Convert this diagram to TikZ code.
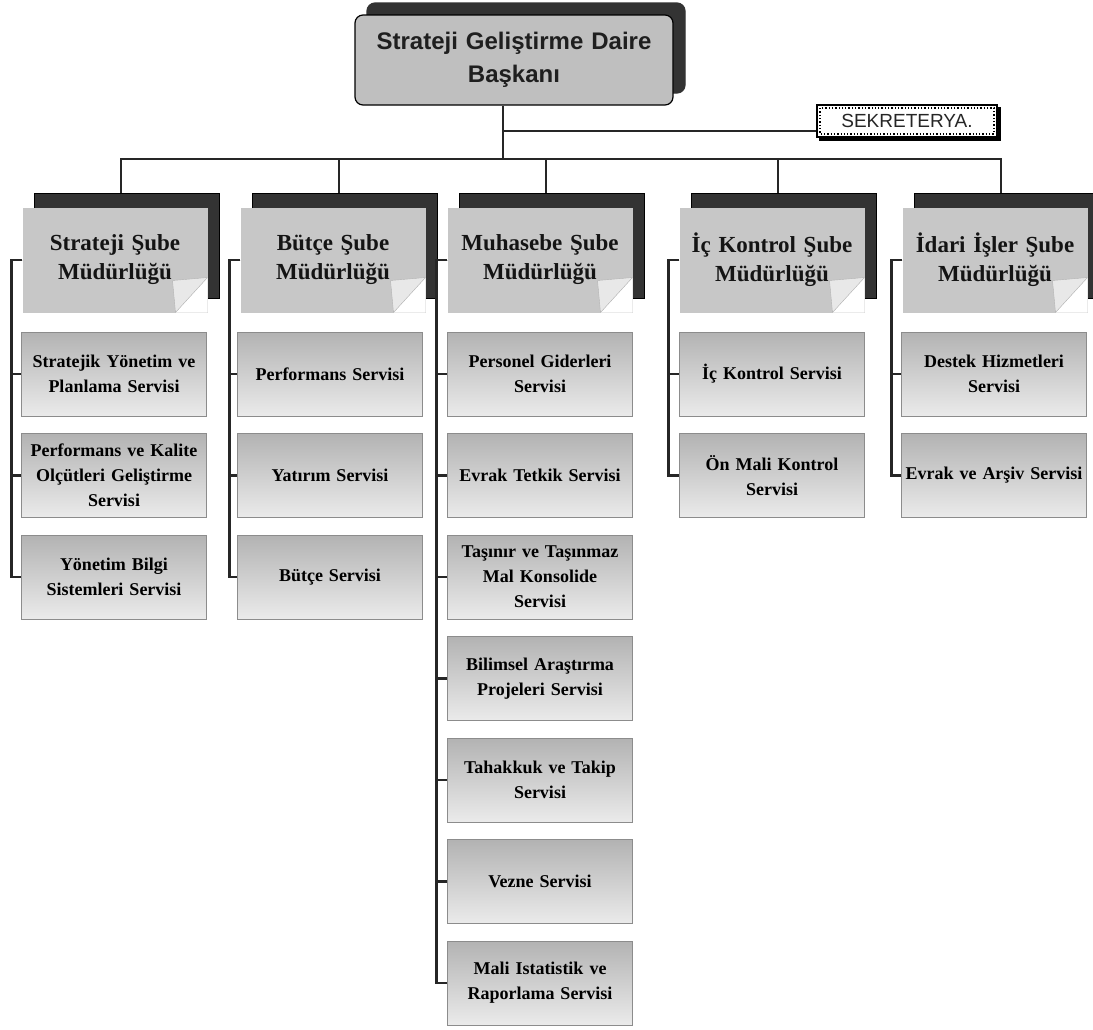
\documentclass[tikz,border=0pt]{standalone}
\usepackage{fontspec}
\setmainfont{Liberation Serif}
\newfontfamily\headfont{Liberation Sans}
\usetikzlibrary{shadows}

\newcommand{\baskanFont}{\headfont\bfseries\fontsize{24}{33}\selectfont}
\newcommand{\subeFont}{\bfseries\fontsize{23}{29}\selectfont}
\newcommand{\svcFont}{\bfseries\fontsize{18}{25}\selectfont}

\begin{document}
\begin{tikzpicture}[x=1pt, y=-1pt,
conn/.style={draw=black!85, line width=2.6pt},
elbow/.style={to path={-- ++(-11pt,0pt) |- (\tikztotarget)}},
busDrop/.style={to path={-| (\tikztotarget)}},
rectBaskan/.style={rectangle, rounded corners=8pt, draw=black, line width=1.2pt, fill=black!25, minimum width=318pt, minimum height=90pt, text width=305pt, align=center, font=\baskanFont, text=black!88, copy shadow={shadow xshift=12pt, shadow yshift=12pt, fill=black!80, draw=black!80}},
rectSekreter/.style={rectangle, draw=black, line width=1.8pt, fill=white, minimum width=180pt, minimum height=32pt, font=\headfont\fontsize{19}{22}\selectfont, text=black!85, copy shadow={shadow xshift=3pt, shadow yshift=-3pt, fill=black, draw=black}},
rectSube/.style={rectangle, fill=black!22, minimum width=185pt, minimum height=105pt, text width=178pt, align=center, font=\subeFont, text=black!92,
  copy shadow={shadow xshift=12pt, shadow yshift=14pt, fill=black!80},
  path picture={
    \fill[white] ([yshift=35pt]path picture bounding box.south east) -- (path picture bounding box.south east) -- ([xshift=-32pt]path picture bounding box.south east) -- cycle;
    \draw[black!30, fill=black!9] ([yshift=35pt]path picture bounding box.south east) -- ([xshift=-32pt]path picture bounding box.south east) -- ([shift={(-35pt,32pt)}]path picture bounding box.south east) -- cycle;
  }},
rectServis/.style={rectangle, draw=black!45, top color=black!30, bottom color=black!8, minimum width=183pt, minimum height=84pt, text width=178pt, align=center, font=\svcFont}]

\useasboundingbox (0,0) rectangle (1093,1029);

\node[rectBaskan] (baskan) at (514, 60) {Strateji Geliştirme Daire\\Başkanı};
\node[rectSekreter] (sekreter) at (907, 121) {SEKRETERYA.};
\draw[black, dotted, line width=1.3pt] ([shift={(4pt,-4pt)}]sekreter.north west) rectangle ([shift={(-4pt,4pt)}]sekreter.south east);
\coordinate (bus) at (503, 159);

\node[rectSube] (strSube) at (115, 260) {Strateji Şube\\Müdürlüğü};
\node[rectSube] (butSube) at (333, 260) {Bütçe Şube\\Müdürlüğü};
\node[rectSube] (muhSube) at (540, 260) {Muhasebe Şube\\Müdürlüğü};
\node[rectSube] (ickSube) at (772, 260) {İç Kontrol Şube\\Müdürlüğü};
\node[rectSube] (idaSube) at (995, 260) {İdari İşler Şube\\Müdürlüğü};

\node[rectServis] (strPlan) at (114, 374) {Stratejik Yönetim ve\\Planlama Servisi};
\node[rectServis] (strKalite) at (114, 475.5) {Performans ve Kalite\\Olçütleri Geliştirme\\Servisi};
\node[rectServis] (strBilgi) at (114, 577) {Yönetim Bilgi\\Sistemleri Servisi};

\node[rectServis] (butPerf) at (330, 374) {Performans Servisi};
\node[rectServis] (butYatirim) at (330, 475.5) {Yatırım Servisi};
\node[rectServis] (butButce) at (330, 577) {Bütçe Servisi};

\node[rectServis] (muhPersonel) at (540, 374) {Personel Giderleri\\Servisi};
\node[rectServis] (muhEvrak) at (540, 475.5) {Evrak Tetkik Servisi};
\node[rectServis] (muhTasinir) at (540, 577) {Taşınır ve Taşınmaz\\Mal Konsolide\\Servisi};
\node[rectServis] (muhBilimsel) at (540, 678.5) {Bilimsel Araştırma\\Projeleri Servisi};
\node[rectServis] (muhTahakkuk) at (540, 780) {Tahakkuk ve Takip\\Servisi};
\node[rectServis] (muhVezne) at (540, 881.5) {Vezne Servisi};
\node[rectServis] (muhIstatistik) at (540, 983) {Mali Istatistik ve\\Raporlama Servisi};

\node[rectServis] (ickKontrol) at (772, 374) {İç Kontrol Servisi};
\node[rectServis] (ickOnMali) at (772, 475.5) {Ön Mali Kontrol\\Servisi};

\node[rectServis] (idaDestek) at (994, 374) {Destek Hizmetleri\\Servisi};
\node[rectServis] (idaArsiv) at (994, 475.5) {Evrak ve Arşiv Servisi};


\path[conn] (baskan.south -| bus)   edge                node {} (bus)
            ([yshift=-10pt]sekreter.west -| bus) edge node {} ([yshift=-10pt]sekreter.west)
            (bus)                   edge [busDrop]      node {} ([xshift=6pt,yshift=14pt]strSube.north)
            (bus)                   edge [busDrop]      node {} ([xshift=6pt,yshift=14pt]butSube.north)
            (bus)                   edge [busDrop]      node {} ([xshift=6pt,yshift=14pt]muhSube.north)
            (bus)                   edge [busDrop]      node {} ([xshift=6pt,yshift=14pt]ickSube.north)
            (bus)                   edge [busDrop]      node {} ([xshift=6pt,yshift=14pt]idaSube.north);

\path[conn] (strSube.west)  edge [elbow] (strPlan.west)
                            edge [elbow] (strKalite.west)
                            edge [elbow] (strBilgi.west)
            (butSube.west)  edge [elbow] (butPerf.west)
                            edge [elbow] (butYatirim.west)
                            edge [elbow] (butButce.west)
            (muhSube.west)  edge [elbow] (muhPersonel.west)
                            edge [elbow] (muhEvrak.west)
                            edge [elbow] (muhTasinir.west)
                            edge [elbow] (muhBilimsel.west)
                            edge [elbow] (muhTahakkuk.west)
                            edge [elbow] (muhVezne.west)
                            edge [elbow] (muhIstatistik.west)
            (ickSube.west)  edge [elbow] (ickKontrol.west)
                            edge [elbow] (ickOnMali.west)
            (idaSube.west)  edge [elbow] (idaDestek.west)
                            edge [elbow] (idaArsiv.west);

\end{tikzpicture}
\end{document}
